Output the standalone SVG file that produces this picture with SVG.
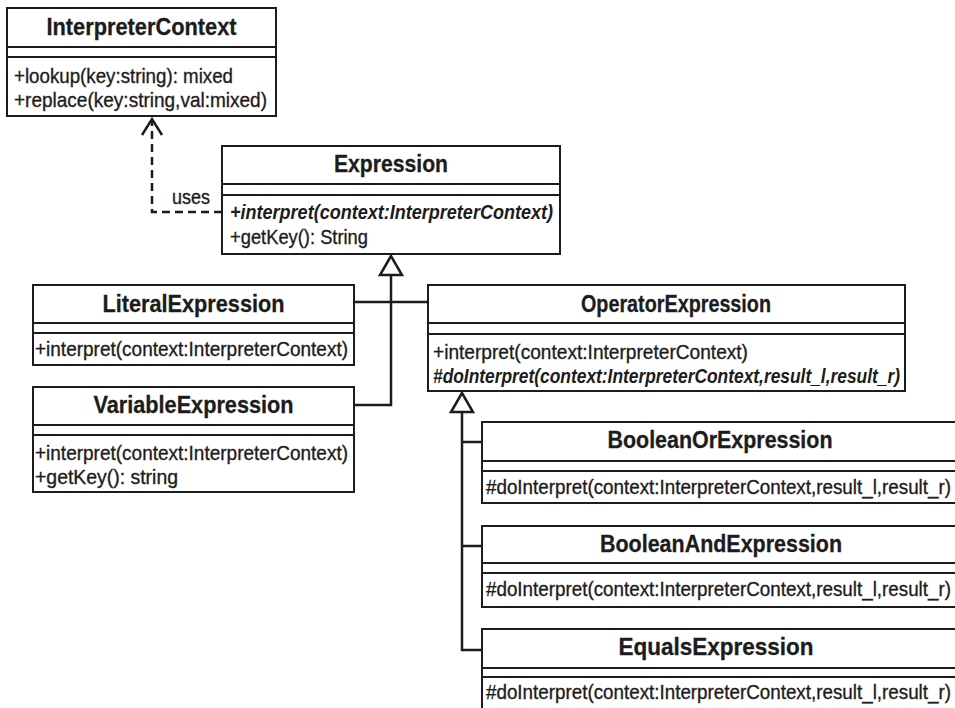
<svg xmlns="http://www.w3.org/2000/svg" width="955" height="708" viewBox="0 0 955 708">
<style>
.box{fill:#fff;stroke:#1c1c1c;stroke-width:2}
.sep{stroke:#1c1c1c;stroke-width:2}
text{fill:#1c1c1c;font-family:"Liberation Sans Narrow","Liberation Sans",Arial,sans-serif}
.t{font-size:24px;font-weight:bold;text-anchor:middle;stroke:#1c1c1c;stroke-width:0.3}
.m{font-size:21px;stroke:#1c1c1c;stroke-width:0.35}
.mi{font-size:21px;font-weight:bold;font-style:italic}
.conn{stroke:#1c1c1c;stroke-width:2.5;fill:none}
.dash{stroke-dasharray:8 5}
.tri{fill:#fff;stroke:#1c1c1c;stroke-width:2.5;stroke-linejoin:miter}
</style>
<rect width="955" height="708" fill="#fff"/>
<g id="connectors">
  <polyline class="conn dash" points="222,212 152,212 152,120"/>
  <polyline class="conn" points="142,135 152,119 162,135"/>
  <text class="m" x="172" y="204" textLength="38" lengthAdjust="spacingAndGlyphs">uses</text>
  <polyline class="conn" points="391,275 391,405 354,405"/>
  <line class="conn" x1="354" y1="302" x2="428" y2="302"/>
  <polygon class="tri" points="391,256 380,275 402,275"/>
  <polyline class="conn" points="462,412 462,650 482,650"/>
  <line class="conn" x1="462" y1="442" x2="482" y2="442"/>
  <line class="conn" x1="462" y1="546" x2="482" y2="546"/>
  <polygon class="tri" points="462,393 451,412 473,412"/>
</g>
<g id="InterpreterContext">
  <rect class="box" x="7" y="8" width="269" height="108"/>
  <line class="sep" x1="7" y1="47" x2="276" y2="47"/>
  <line class="sep" x1="7" y1="57" x2="276" y2="57"/>
  <text class="t" x="141.5" y="35" textLength="190" lengthAdjust="spacingAndGlyphs">InterpreterContext</text>
  <text class="m" x="14" y="83" textLength="219" lengthAdjust="spacingAndGlyphs">+lookup(key:string): mixed</text>
  <text class="m" x="14" y="107" textLength="253" lengthAdjust="spacingAndGlyphs">+replace(key:string,val:mixed)</text>
</g>
<g id="Expression">
  <rect class="box" x="222" y="146" width="338" height="108"/>
  <line class="sep" x1="222" y1="184" x2="560" y2="184"/>
  <line class="sep" x1="222" y1="195" x2="560" y2="195"/>
  <text class="t" x="391" y="172" textLength="114" lengthAdjust="spacingAndGlyphs">Expression</text>
  <text class="mi" x="230" y="219" textLength="323" lengthAdjust="spacingAndGlyphs">+interpret(context:InterpreterContext)</text>
  <text class="m" x="230" y="244" textLength="138" lengthAdjust="spacingAndGlyphs">+getKey(): String</text>
</g>
<g id="LiteralExpression">
  <rect class="box" x="33" y="285" width="321" height="80"/>
  <line class="sep" x1="33" y1="323" x2="354" y2="323"/>
  <line class="sep" x1="33" y1="333" x2="354" y2="333"/>
  <text class="t" x="193.5" y="312" textLength="182" lengthAdjust="spacingAndGlyphs">LiteralExpression</text>
  <text class="m" x="35" y="356" textLength="313" lengthAdjust="spacingAndGlyphs">+interpret(context:InterpreterContext)</text>
</g>
<g id="VariableExpression">
  <rect class="box" x="33" y="387" width="321" height="105"/>
  <line class="sep" x1="33" y1="425" x2="354" y2="425"/>
  <line class="sep" x1="33" y1="435" x2="354" y2="435"/>
  <text class="t" x="193.5" y="413" textLength="200" lengthAdjust="spacingAndGlyphs">VariableExpression</text>
  <text class="m" x="35" y="460" textLength="313" lengthAdjust="spacingAndGlyphs">+interpret(context:InterpreterContext)</text>
  <text class="m" x="35" y="484" textLength="143" lengthAdjust="spacingAndGlyphs">+getKey(): string</text>
</g>
<g id="OperatorExpression">
  <rect class="box" x="428" y="285" width="477" height="106"/>
  <line class="sep" x1="428" y1="323" x2="905" y2="323"/>
  <line class="sep" x1="428" y1="334" x2="905" y2="334"/>
  <text class="t" x="676" y="312" textLength="190" lengthAdjust="spacingAndGlyphs">OperatorExpression</text>
  <text class="m" x="433" y="359" textLength="315" lengthAdjust="spacingAndGlyphs">+interpret(context:InterpreterContext)</text>
  <text class="mi" x="433" y="383" textLength="467" lengthAdjust="spacingAndGlyphs">#doInterpret(context:InterpreterContext,result_l,result_r)</text>
</g>
<g id="BooleanOrExpression">
  <rect class="box" x="482" y="422" width="480" height="81"/>
  <line class="sep" x1="482" y1="461" x2="962" y2="461"/>
  <line class="sep" x1="482" y1="471" x2="962" y2="471"/>
  <text class="t" x="720" y="448" textLength="225" lengthAdjust="spacingAndGlyphs">BooleanOrExpression</text>
  <text class="m" x="486" y="494" textLength="465" lengthAdjust="spacingAndGlyphs">#doInterpret(context:InterpreterContext,result_l,result_r)</text>
</g>
<g id="BooleanAndExpression">
  <rect class="box" x="482" y="526" width="480" height="81"/>
  <line class="sep" x1="482" y1="563" x2="962" y2="563"/>
  <line class="sep" x1="482" y1="573" x2="962" y2="573"/>
  <text class="t" x="721" y="552" textLength="242" lengthAdjust="spacingAndGlyphs">BooleanAndExpression</text>
  <text class="m" x="486" y="596" textLength="465" lengthAdjust="spacingAndGlyphs">#doInterpret(context:InterpreterContext,result_l,result_r)</text>
</g>
<g id="EqualsExpression">
  <rect class="box" x="482" y="629" width="480" height="95"/>
  <line class="sep" x1="482" y1="668" x2="962" y2="668"/>
  <line class="sep" x1="482" y1="677" x2="962" y2="677"/>
  <text class="t" x="716" y="655" textLength="195" lengthAdjust="spacingAndGlyphs">EqualsExpression</text>
  <text class="m" x="486" y="699" textLength="465" lengthAdjust="spacingAndGlyphs">#doInterpret(context:InterpreterContext,result_l,result_r)</text>
</g>
</svg>
